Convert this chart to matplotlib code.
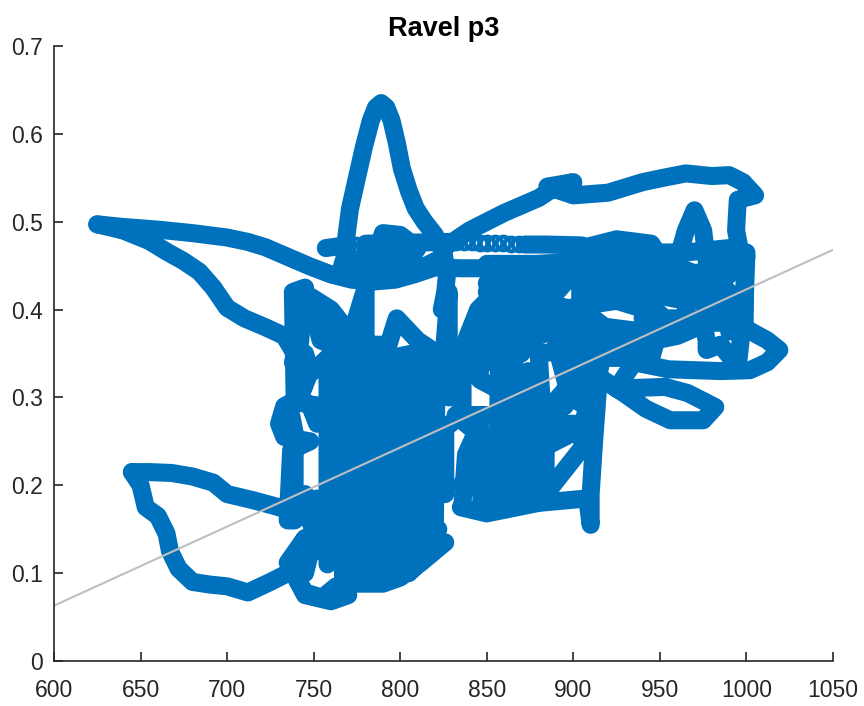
import matplotlib
matplotlib.use("Agg")
import matplotlib.pyplot as plt

plt.rcParams['font.family'] = ['Liberation Sans', 'DejaVu Sans']

# Each pass of the trace
tail_x = [625, 640, 660, 680, 700, 712, 722, 735, 748, 760, 772, 785, 797, 808, 820, 835, 850, 880, 905, 925]
tail_y = [.497, .494, .491, .487, .482, .477, .471, .46, .449, .44, .434, .432, .434, .44, .448, .447, .447, .445, .45, .447]
tail2_x = [625, 640, 655, 665, 675, 684, 692, 700, 710, 722, 733, 739, 741, 741]
tail2_y = [.497, .49, .478, .466, .455, .443, .425, .402, .39, .38, .37, .35, .33, .30]
peak_x = [765, 768, 769, 771, 775, 779, 783, 786, 789, 792, 795, 798, 801, 805, 809, 814, 820, 825, 827, 826, 824]
peak_y = [.44, .46, .485, .515, .55, .585, .615, .63, .635, .63, .615, .59, .56, .535, .515, .50, .485, .465, .44, .42, .40]
top_x = [825, 840, 860, 880, 890, 900, 885, 900, 920, 940, 952, 965, 980, 990, 998, 1005, 995, 994, 996, 999, 999, 990]
top_y = [.47, .49, .51, .527, .54, .545, .54, .53, .533, .545, .55, .555, .552, .553, .545, .53, .525, .49, .47, .44, .40, .375]
band_x = [757, 768]
band_y = [.47, .473]
band2_x = [780, 800, 830]
band2_y = [.475, .476, .477]
band3_x = [872, 885, 905]
band3_y = [.474, .474, .473]
knot_x = [785, 790, 800, 810, 805, 790, 775, 773, 785, 805, 815, 825]
knot_y = [.455, .487, .485, .47, .455, .46, .455, .445, .44, .445, .45, .46]
spike_x = [945, 960, 965, 970, 975, 978, 985, 1000, 999, 985, 960, 935, 915, 900, 880]
spike_y = [.44, .455, .49, .513, .49, .44, .465, .465, .41, .40, .42, .41, .42, .40, .41]
right_x = [985, 1000, 1012, 1019, 1012, 1002, 985, 955, 935, 925, 929, 942, 956, 975, 982, 966, 953, 925, 910]
right_y = [.39, .378, .365, .354, .34, .331, .33, .332, .34, .31, .305, .287, .274, .274, .289, .305, .312, .31, .33]
right2_x = [995, 975, 977, 977, 985, 995, 998, 965, 940, 920, 900, 880, 860, 845]
right2_y = [.385, .385, .365, .354, .36, .335, .39, .39, .375, .38, .385, .37, .36, .35]
stem_x = [918, 915, 912, 910, 910, 908, 880, 850, 835]
stem_y = [.36, .33, .25, .19, .155, .185, .18, .168, .175]
arc_x = [880, 890, 900, 908]
arc_y = [.18, .205, .23, .25]
pillar_x = [739, 738, 745, 742, 738, 745, 748, 742, 748, 752, 755, 738, 733, 730, 733, 748, 737, 735, 739, 739, 737]
pillar_y = [.30, .42, .425, .36, .34, .35, .33, .30, .29, .27, .29, .295, .29, .27, .255, .25, .24, .16, .16, .26, .28]
ushape_x = [752, 752, 754, 760, 762, 760]
ushape_y = [.40, .38, .365, .36, .375, .395]
arch_x = [748, 760, 768, 772, 758, 750, 745]
arch_y = [.415, .40, .38, .35, .345, .33, .33]
left_x = [645, 655, 668, 680, 692, 700, 715, 730, 745, 750]
left_y = [.215, .215, .214, .21, .203, .19, .183, .175, .165, .155]
loop_x = [645, 650, 653, 660, 665, 667, 672, 680, 690, 700, 712, 725, 735, 745, 735, 745, 760, 770]
loop_y = [.215, .20, .175, .165, .145, .125, .105, .09, .087, .085, .078, .09, .10, .14, .112, .075, .068, .075]
# close strokes that make up the solid part of the trace
base_x = [737, 745, 755, 763, 775, 790, 800, 812, 826, 815, 822]
base_y = [.105, .078, .072, .085, .088, .088, .095, .112, .135, .13, .15]
fill1_x = [758, 758, 766, 767, 776, 775, 785, 786, 795, 794, 804, 805, 813, 812, 821, 820]
fill1_y = [.11, .335, .335, .09, .09, .335, .33, .09, .095, .335, .335, .10, .115, .34, .33, .15]
fill2_x = [745, 750, 752, 745, 752, 752]
fill2_y = [.10, .14, .17, .19, .125, .185]
neck_x = [784, 795, 807, 830, 850]
neck_y = [.34, .345, .35, .35, .36]
strut_x = [780, 780, 770, 790, 790, 798, 810, 825, 828, 828, 835, 835, 826, 826, 815]
strut_y = [.35, .425, .36, .36, .34, .39, .365, .345, .42, .30, .33, .28, .265, .19, .19]
mid_x = [836, 838, 846, 847, 856, 857, 866, 865, 874, 873, 882, 880, 905, 908, 898, 890, 900, 895]
mid_y = [.18, .235, .27, .175, .175, .34, .345, .18, .185, .29, .285, .35, .355, .29, .30, .36, .375, .29]
mid2_x = [840, 870, 905, 880, 850, 832, 850, 885, 905, 870, 845, 835, 860, 880]
mid2_y = [.20, .21, .33, .275, .25, .28, .28, .27, .265, .23, .225, .20, .195, .205]
mid3_x = [836, 836, 846, 846, 865, 874, 874, 884, 884, 875, 875, 912, 912, 905]
mid3_y = [.285, .355, .355, .32, .30, .33, .19, .19, .24, .24, .27, .27, .36, .25]
arm_x = [835, 845, 860, 850, 838, 850, 870, 890, 915]
arm_y = [.35, .40, .43, .38, .352, .34, .35, .40, .38]
upper1_x = [850, 885, 887, 960, 990, 1000, 985, 930, 890, 850, 857, 875, 925, 950, 990, 995, 960, 935, 905]
upper1_y = [.452, .452, .445, .44, .445, .46, .43, .43, .435, .43, .39, .395, .41, .42, .42, .40, .37, .36, .35]
upper2_x = [905, 925, 950, 945, 915, 905, 920, 945, 965, 990, 985, 975]
upper2_y = [.40, .37, .38, .345, .345, .39, .45, .465, .465, .47, .44, .43]
upper3_x = [855, 855, 865, 865, 875, 875, 885, 885, 860, 890, 904, 904, 870, 950, 950, 925, 925, 965, 965, 940]
upper3_y = [.36, .45, .45, .36, .38, .45, .45, .38, .40, .40, .37, .45, .375, .375, .395, .41, .425, .41, .39, .39]
upper4_x = [915, 915, 935, 935, 950, 950, 965, 985, 985, 999, 999]
upper4_y = [.43, .46, .46, .43, .43, .46, .445, .43, .455, .455, .375]
top_blob_x = [895, 905, 925, 945, 950, 930, 905, 880, 862, 850]
top_blob_y = [.455, .47, .48, .475, .46, .455, .455, .452, .44, .42]

# open circles where the trace moves slowly enough to show them
ring_x = [770, 774.6, 779, 832, 836.6, 841.2, 845.8, 850.4, 855, 859.6, 864.2, 868.8]
ring_y = [.473, .474, .474, .477, .477, .477, .476, .476, .476, .476, .475, .475]

fit_x = [600, 1050]
fit_y = [.063, .468]

passes = [(tail_x, tail_y), (tail2_x, tail2_y), (peak_x, peak_y), (top_x, top_y),
          (band_x, band_y), (band2_x, band2_y), (band3_x, band3_y), (knot_x, knot_y),
          (spike_x, spike_y), (right_x, right_y), (right2_x, right2_y), (stem_x, stem_y),
          (arc_x, arc_y), (pillar_x, pillar_y), (ushape_x, ushape_y), (arch_x, arch_y),
          (left_x, left_y), (loop_x, loop_y), (base_x, base_y), (fill1_x, fill1_y),
          (fill2_x, fill2_y), (neck_x, neck_y), (strut_x, strut_y), (mid_x, mid_y),
          (mid2_x, mid2_y), (mid3_x, mid3_y), (arm_x, arm_y), (upper1_x, upper1_y),
          (upper2_x, upper2_y), (upper3_x, upper3_y), (upper4_x, upper4_y), (top_blob_x, top_blob_y)]

fig = plt.figure(figsize=(8.64, 7.06), dpi=100)
ax = fig.add_axes([54 / 864, 1 - 661 / 706, 779 / 864, 615 / 706])

for px, py in passes:
    ax.plot(px, py, color='#0072BD', lw=13, solid_capstyle='round', solid_joinstyle='round')
ax.plot(ring_x, ring_y, 'o', color='#0072BD', mfc='none', ms=9.8, mew=3, ls='none')

ax.plot(fit_x, fit_y, color='#BFBFBF', lw=1.5)

ax.set_xlim(600, 1050)
ax.set_ylim(0, 0.7)
ax.set_xticks(range(600, 1051, 50))
ax.set_yticks([0, .1, .2, .3, .4, .5, .6, .7])
ax.set_yticklabels(['0', '0.1', '0.2', '0.3', '0.4', '0.5', '0.6', '0.7'])
ax.spines['top'].set_visible(False)
ax.spines['right'].set_visible(False)
ax.spines['left'].set_linewidth(1.2)
ax.spines['bottom'].set_linewidth(1.2)
ax.spines['left'].set_color('#262626')
ax.spines['bottom'].set_color('#262626')
ax.tick_params(direction='in', length=6.5, width=1.2, labelsize=16.5, color='#262626', labelcolor='#262626')
ax.tick_params(axis='x', pad=13)
ax.tick_params(axis='y', pad=8)
ax.set_title('Ravel p3', fontsize=19.5, fontweight='bold', pad=7)

fig.savefig('out.png', dpi=100)
